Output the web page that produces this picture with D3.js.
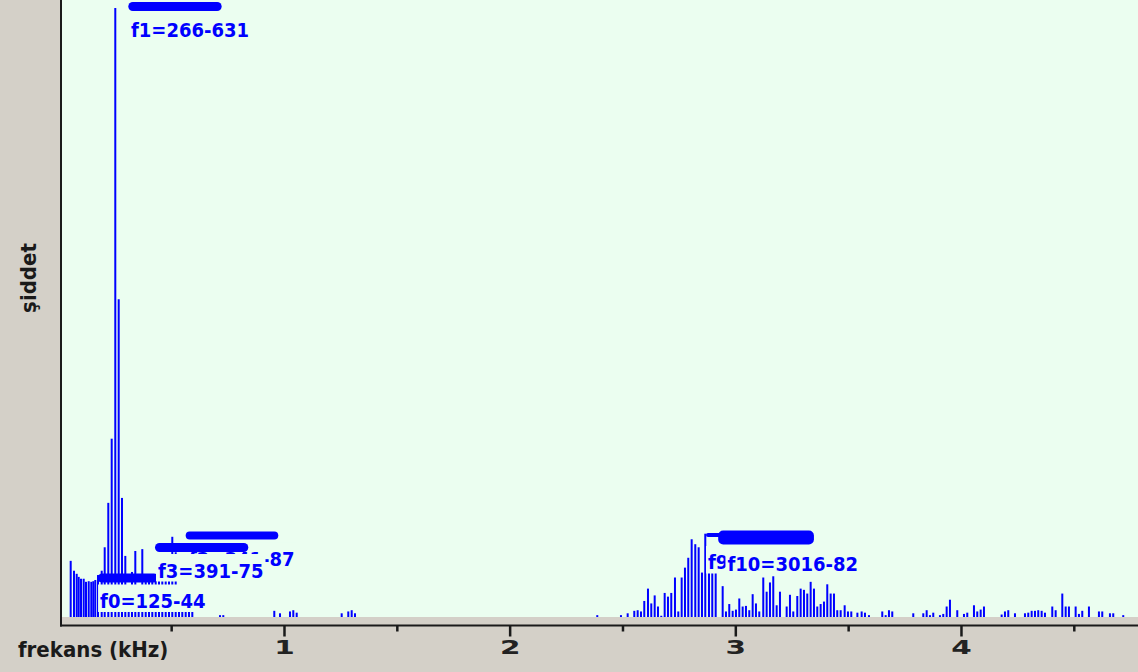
<!DOCTYPE html>
<html>
<head>
<meta charset="utf-8">
<script src="https://cdn.jsdelivr.net/npm/d3@7"></script>
<style>
  html, body { margin: 0; padding: 0; background: #d4d0c8; }
  svg { display: block; }
</style>
</head>
<body>
<svg id="chart" width="1138" height="672"></svg>
<script>
// Spectrum lines: frequency in kHz and relative level (0–100)
const spectrumFreq = [
  0.0548, 0.0694, 0.0814, 0.0903, 0.1005, 0.1124, 0.1226, 0.1346, 0.1461, 0.1550,
  0.1638, 0.1758, 0.1922, 0.2055, 0.2214, 0.2365, 0.2524, 0.2675, 0.2821, 0.2968,
  0.3118, 0.3264, 0.3411, 0.3561, 0.3721, 0.3872, 0.4018, 0.4164, 0.4315, 0.4461,
  0.4607, 0.4758, 0.4904, 0.5050, 0.5201, 0.5347, 0.5493, 0.5644, 0.5790, 0.5937,
  0.7164, 0.7310, 0.9570, 0.9823, 1.0266, 1.0412, 1.0563, 1.2557, 1.2849, 1.3000,
  1.3146,
  2.3883, 2.4933, 2.5230, 2.5523, 2.5673, 2.5820, 2.5966, 2.6130, 2.6276, 2.6427,
  2.6573, 2.6719, 2.6870, 2.7016, 2.7162, 2.7326, 2.7473, 2.7623, 2.7769, 2.7915,
  2.8066, 2.8226, 2.8376, 2.8523, 2.8669, 2.8833, 2.8979, 2.9130, 2.9440, 2.9586,
  2.9732, 2.9883, 3.0029, 3.0176, 3.0326, 3.0472, 3.0619, 3.0769, 3.0915, 3.1062,
  3.1239, 3.1389, 3.1536, 3.1682, 3.1833, 3.1979, 3.2276, 3.2422, 3.2569, 3.2746,
  3.2896, 3.3043, 3.3189, 3.3339, 3.3486, 3.3632, 3.3782, 3.3929, 3.4075, 3.4226,
  3.4372, 3.4518, 3.4669, 3.4846, 3.4992, 3.5139, 3.5410, 3.5599, 3.5746, 3.5923,
  3.6512, 3.6663, 3.6809, 3.6955, 3.7886, 3.8330, 3.8480, 3.8626, 3.8772, 3.9069,
  3.9215, 3.9366, 3.9512, 3.9836, 4.0133, 4.0279, 4.0576, 4.0722, 4.0873, 4.1019,
  4.1803, 4.1949, 4.2096, 4.2393, 4.2836, 4.2982, 4.3133, 4.3279, 4.3425, 4.3576,
  4.3722, 4.4046, 4.4196, 4.4490, 4.4640, 4.4785, 4.5082, 4.5228, 4.5375, 4.5671,
  4.6114, 4.6261, 4.6602, 4.6748, 4.7191
];
const spectrumLevel = [
  9.1, 7.5, 7.0, 6.5, 6.2, 6.2, 5.7, 5.8, 5.7, 5.8,
  6.0, 6.8, 7.5, 11.3, 18.5, 28.9, 98.7, 51.5, 19.3, 9.9,
  5.0, 7.3, 10.7, 5.0, 11.0, 6.0, 6.0, 6.0, 6.5, 7.0,
  8.0, 7.0, 7.5, 13.0, 10.5, 3.5, 3.0, 3.0, 2.5, 2.0,
  0.3, 0.3, 1.0, 0.6, 0.9, 1.1, 0.7, 0.6, 0.9, 1.1,
  0.6,
  0.3, 0.3, 0.6, 1.0, 1.1, 0.9, 2.6, 4.6, 2.2, 3.5,
  1.7, 0.2, 3.9, 3.3, 3.9, 6.4, 0.9, 6.4, 8.0, 9.6,
  12.6, 11.8, 11.3, 7.2, 13.5, 8.0, 8.0, 8.0, 5.0, 0.9,
  2.1, 1.0, 1.2, 3.0, 1.7, 1.8, 1.1, 3.7, 2.2, 0.9,
  6.4, 4.1, 5.6, 6.6, 1.9, 4.1, 1.7, 3.6, 0.9, 3.4,
  4.6, 4.4, 3.8, 5.7, 4.6, 1.7, 2.1, 2.5, 5.3, 3.8,
  3.8, 1.1, 1.1, 1.9, 0.9, 0.9, 0.7, 0.9, 0.7, 0.3,
  0.9, 0.3, 1.1, 0.9, 0.6, 0.6, 1.1, 0.3, 0.7, 0.3,
  0.5, 1.7, 2.8, 1.1, 0.5, 0.7, 1.9, 0.9, 1.2, 1.7,
  0.4, 0.9, 1.1, 0.6, 0.6, 0.7, 1.0, 1.0, 1.1, 1.0,
  0.7, 1.7, 1.1, 3.8, 1.7, 1.7, 1.7, 0.5, 1.0, 1.7,
  0.9, 0.9, 0.6, 0.6, 0.3
];

// Formant markers: label, label anchor (kHz, level), band extent (kHz) and band level
const markerLabels     = ["f0=125-44", "f1=266-631", "f2=341-87", "f3=391-75", "f9=2866-84", "f10=3016-82"];
const markerTextFreq   = [0.185, 0.322, 0.579, 0.4417, 2.8789, 2.9652];
const markerTextLevel  = [1.46, 94.08, 8.2, 6.40, 7.70, 7.46];
const markerBandFrom   = [0.1745, 0.3100, 0.5644, 0.4284, 2.8700, 2.9241];
const markerBandTo     = [0.4432, 0.7238, 0.9747, 0.8419, 3.3307, 3.3484];
const markerBandLevel  = [6.32, 98.95, 13.21, 11.26, 13.29, 12.88];

// Axis ticks (kHz)
const majorTicks = [1, 2, 3, 4];
const minorTicks = [0.5, 1.5, 2.5, 3.5, 4.5];
const tickLabels = ["1", "2", "3", "4"];

// ---- layout & style ----
const plot = { left: 62, right: 1138, top: 0, bottom: 617 };
const axisY = 625.5;
const bandThickness = [9, 9, 8, 9, 4, 14];
const blue = "#0000ff";
const plotBg = "#ebfef0";
const labelFont = "'DejaVu Sans Condensed', 'DejaVu Sans', sans-serif";

const svg = d3.select("#chart");

const x = d3.scaleLinear().domain([0.01626, 4.7845]).range([plot.left, plot.right]);
const y = d3.scaleLinear().domain([0, 100]).range([plot.bottom, plot.top]);

// plot background
svg.append("rect")
  .attr("x", plot.left).attr("y", plot.top)
  .attr("width", plot.right - plot.left).attr("height", plot.bottom - plot.top)
  .attr("fill", plotBg);

svg.append("clipPath").attr("id", "plotClip")
  .append("rect")
  .attr("x", plot.left).attr("y", plot.top)
  .attr("width", plot.right - plot.left).attr("height", plot.bottom - plot.top);

const body = svg.append("g").attr("clip-path", "url(#plotClip)");

// spectrum lines
body.append("g").selectAll("rect")
  .data(spectrumFreq.map((f, i) => ({ f, v: spectrumLevel[i] })))
  .join("rect")
  .attr("x", d => x(d.f) - 1)
  .attr("width", 2)
  .attr("y", d => y(d.v))
  .attr("height", d => y(0) - y(d.v))
  .attr("fill", blue);

// formant markers: opaque label box, label, then the band bar above it
const markers = markerLabels.map((label, i) => ({
  label,
  tf: markerTextFreq[i], tv: markerTextLevel[i],
  b0: markerBandFrom[i], b1: markerBandTo[i], bv: markerBandLevel[i],
  thick: bandThickness[i]
}));

markers.forEach(m => {
  const g = body.append("g");
  const box = g.append("rect").attr("fill", plotBg);
  const tx = x(m.tf), ty = y(m.tv);
  const t = g.append("text")
    .attr("x", tx).attr("y", ty)
    .attr("fill", blue)
    .attr("font-family", labelFont)
    .attr("font-weight", "bold")
    .attr("font-size", 20)
    .text(m.label);
  const len = t.node().getComputedTextLength();
  box.attr("x", tx - 2).attr("y", ty - 23.5).attr("width", len + 4).attr("height", 27.5);
  g.append("rect")
    .attr("x", x(m.b0)).attr("width", x(m.b1) - x(m.b0))
    .attr("y", y(m.bv) - m.thick / 2).attr("height", m.thick)
    .attr("rx", Math.min(m.thick / 2, 5))
    .attr("fill", blue);
});

// axes
const axisColor = "#1a1a1a";
svg.append("line")
  .attr("x1", 61).attr("x2", 61).attr("y1", 0).attr("y2", axisY + 1)
  .attr("stroke", axisColor).attr("stroke-width", 2);
svg.append("line")
  .attr("x1", 60).attr("x2", plot.right).attr("y1", axisY).attr("y2", axisY)
  .attr("stroke", axisColor).attr("stroke-width", 2);

const minorAxis = svg.append("g")
  .attr("transform", `translate(0,${axisY})`)
  .call(d3.axisBottom(x).tickValues(minorTicks).tickSize(6).tickFormat(""));
const majorAxis = svg.append("g")
  .attr("transform", `translate(0,${axisY})`)
  .call(d3.axisBottom(x).tickValues(majorTicks).tickSize(11)
        .tickFormat((d, i) => tickLabels[i]));

[minorAxis, majorAxis].forEach(a => {
  a.select(".domain").remove();
  a.attr("color", axisColor);
  a.selectAll(".tick line").attr("stroke-width", 2.5);
});
majorAxis.selectAll(".tick text")
  .attr("y", 29).attr("dy", 0)
  .attr("font-family", "'DejaVu Sans', sans-serif")
  .attr("font-weight", "bold")
  .attr("font-size", 19)
  .attr("fill", "#222")
  .attr("transform", "scale(1.55,1)");

// axis titles
svg.append("text")
  .attr("x", 18).attr("y", 657)
  .attr("font-family", labelFont)
  .attr("font-weight", "bold")
  .attr("font-size", 22)
  .attr("fill", "#1a1a1a")
  .text("frekans (kHz)");

svg.append("text")
  .attr("transform", "translate(36,278) rotate(-90)")
  .attr("text-anchor", "middle")
  .attr("font-family", labelFont)
  .attr("font-weight", "bold")
  .attr("font-size", 22)
  .attr("fill", "#1a1a1a")
  .text("şiddet");
</script>
</body>
</html>
